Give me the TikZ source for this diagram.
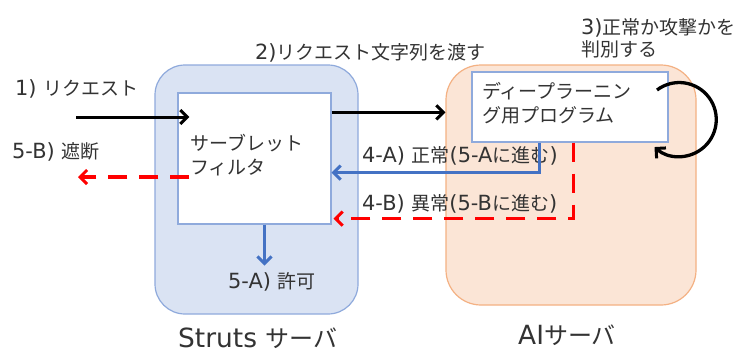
\documentclass[tikz,border=0pt]{standalone}
\usepackage{fontspec}
\setmainfont{Noto Sans CJK JP}
\newfontfamily\lat[Scale=1.1]{DejaVu Sans}
\usetikzlibrary{arrows.meta,calc}
\definecolor{sbfill}{HTML}{DAE3F3}
\definecolor{sbdraw}{HTML}{8FAADC}
\definecolor{aifill}{HTML}{FBE5D6}
\definecolor{aidraw}{HTML}{F4B183}
\definecolor{bluearr}{HTML}{4472C4}
\definecolor{txt}{HTML}{333333}
\begin{document}
\begin{tikzpicture}[x=1pt,y=-1pt,
  lbl/.style={font=\fontsize{19}{24}\selectfont, text=txt, anchor=west, inner sep=0pt, align=left},
  srvlbl/.style={font=\fontsize{24}{28}\selectfont, text=txt, anchor=west, inner sep=0pt},
  inbox/.style={draw=sbdraw, fill=white, line width=1.2pt, inner sep=0pt},
  blk/.style={draw=black, line width=3pt, -{Straight Barb[length=7pt,width=14pt,line width=3pt]}},
  blu/.style={draw=bluearr, line width=3pt, -{Straight Barb[length=7pt,width=14pt,line width=3pt]}},
  red/.style={draw=red, line width=3.5pt, dash pattern=on 19pt off 12pt, -{Straight Barb[length=7pt,width=14pt,line width=3pt]}}
]
\useasboundingbox[fill=white] (0,0) rectangle (742,354);
% containers
\node[draw=sbdraw, fill=sbfill, line width=1.2pt, rounded corners=30pt, minimum width=203pt, minimum height=249pt, inner sep=0pt] (struts) at (256.5,189.5) {};
\node[draw=aidraw, fill=aifill, line width=1.2pt, rounded corners=35pt, minimum width=250pt, minimum height=240pt, inner sep=0pt] (ai) at (571,185) {};
% inner boxes
\node[inbox, minimum width=153pt, minimum height=131pt] (filter) at (254.5,158.5) {};
\node[inbox, minimum width=196pt, minimum height=70pt] (dl) at (570,107) {};
% texts in boxes
\node[lbl] (filtertxt) at (190,155) {サーブレット\\フィルタ};
\node[lbl] (dltxt) at (482,103) {ディープラーニン\\グ用プログラム};
% labels
\node[lbl] (l1) at (15,89) {{\lat 1) }リクエスト};
\node[lbl] (l2) at (255,53) {{\lat 2)}リクエスト文字列を渡す};
\node[lbl, font=\fontsize{19}{22}\selectfont] (l3) at (581,38) {{\lat 3)}正常か攻撃かを\\判別する};
\node[lbl] (l4a) at (362,156) {{\lat 4-A) }正常{\lat (5-A}に進む{\lat )}};
\node[lbl] (l4b) at (362,204) {{\lat 4-B) }異常{\lat (5-B}に進む{\lat )}};
\node[lbl] (l5b) at (12,152) {{\lat 5-B) }遮断};
\node[lbl] (l5a) at (228,282) {{\lat 5-A) }許可};
\node[srvlbl] (strutslbl) at (178,338) {{\lat Struts }サーバ};
\node[srvlbl] (ailbl) at (518,335) {{\lat AI}サーバ};
% connectors
\coordinate (reqin) at (76,117);
\coordinate (blockout) at (78,177);
\coordinate (loopstart) at (657,90);
\draw[blk] (reqin) -- ([xshift=12pt]filter.west |- reqin);
\draw[blk] ($(filter.north east)+(0,20)$) -- (ai.west |- {$(filter.north east)+(0,20)$});
\draw[blk, line width=3.3pt] (loopstart) arc[start angle=-127, end angle=132, radius=37];
\draw[blu] ($(dl.south west)+(68,0)$) |- ($(filter.south east)+(0,-52)$);
\draw[red] ($(dl.south west)+(102,0)$) |- ($(filter.south east)+(2,-6)$);
\draw[red] ($(filter.west)+(12,18.5)$) -- (blockout);
\draw[blu] ($(filter.south)+(10,0)$) -- ($(filter.south)+(10,41)$);
\end{tikzpicture}
\end{document}
